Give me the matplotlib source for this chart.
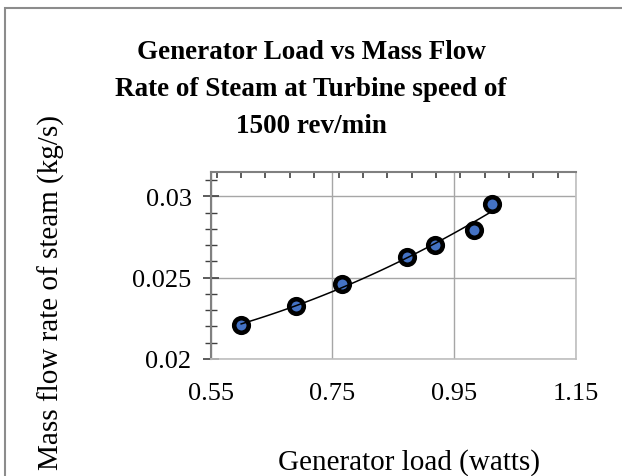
import numpy as np
import matplotlib.pyplot as plt
from matplotlib.patches import Rectangle
from matplotlib.ticker import MultipleLocator

# Data
load_watts = [0.60, 0.69, 0.765, 0.872, 0.919, 0.982, 1.012]
mass_flow = [0.0221, 0.02325, 0.0246, 0.02626, 0.02698, 0.02791, 0.02955]

plt.rcParams["font.family"] = ["Liberation Serif", "DejaVu Serif"]

fig = plt.figure(figsize=(6.22, 4.77), dpi=100)

# outer chart frame
fig.patches.append(Rectangle((5 / 622, -0.1), 1.2, 1 - 9 / 477 + 0.1,
                             transform=fig.transFigure, fill=False,
                             edgecolor="#8c8c8c", linewidth=1.5, clip_on=False))

ax = fig.add_axes([210.7 / 622, 1 - 360 / 477, (576 - 210.7) / 622, (360 - 173) / 477])

# 2nd order polynomial trendline
coef = np.polyfit(load_watts, mass_flow, 2)
xs = np.linspace(min(load_watts), max(load_watts), 100)

ax.plot(load_watts, mass_flow, "o", markersize=10.5, markerfacecolor="#4472C4",
        markeredgecolor="black", markeredgewidth=3.3, zorder=3)
ax.plot(xs, np.polyval(coef, xs), color="black", linewidth=1.1, zorder=4)

ax.set_xlim(0.55, 1.15)
ax.set_ylim(0.02, 0.0315)
ax.set_xticks([0.55, 0.75, 0.95, 1.15])
ax.set_xticklabels(["0.55", "0.75", "0.95", "1.15"])
ax.set_yticks([0.02, 0.025, 0.03])
ax.set_yticklabels(["0.02", "0.025", "0.03"])
ax.xaxis.set_minor_locator(MultipleLocator(0.04))
ax.yaxis.set_minor_locator(MultipleLocator(0.001))

ax.grid(True, which="major", color="#a6a6a6", linewidth=1.0)
ax.set_axisbelow(True)

for side in ["bottom", "right"]:
    ax.spines[side].set_color("#bfbfbf")
    ax.spines[side].set_linewidth(1.2)
for side in ["top", "left"]:
    ax.spines[side].set_color("#808080")
    ax.spines[side].set_linewidth(1.5)

ax.tick_params(axis="x", which="both", bottom=False, top=False, labelsize=19, pad=13)
ax.tick_params(axis="x", which="minor", top=True, direction="in", length=4,
               width=1.2, color="#404040")
ax.tick_params(axis="y", which="major", direction="inout", length=11.5, width=1.2,
               color="#404040", labelsize=19, pad=8)
ax.tick_params(axis="y", which="minor", direction="inout", length=8, width=1.0,
               color="#404040")

fig.text(0.5, 1 - 40 / 477, "Generator Load vs Mass Flow\nRate of Steam at Turbine speed of\n1500 rev/min",
         ha="center", va="top", fontsize=19.5, fontweight="bold", linespacing=1.62)
fig.text(51 / 622, 1 - 292 / 477, "Mass flow rate of steam (kg/s)", rotation=90,
         ha="center", va="center", fontsize=21)
fig.text(409 / 622, 1 - 463 / 477, "Generator load (watts)", ha="center", va="center",
         fontsize=21)

fig.savefig("out.png", dpi=100)
